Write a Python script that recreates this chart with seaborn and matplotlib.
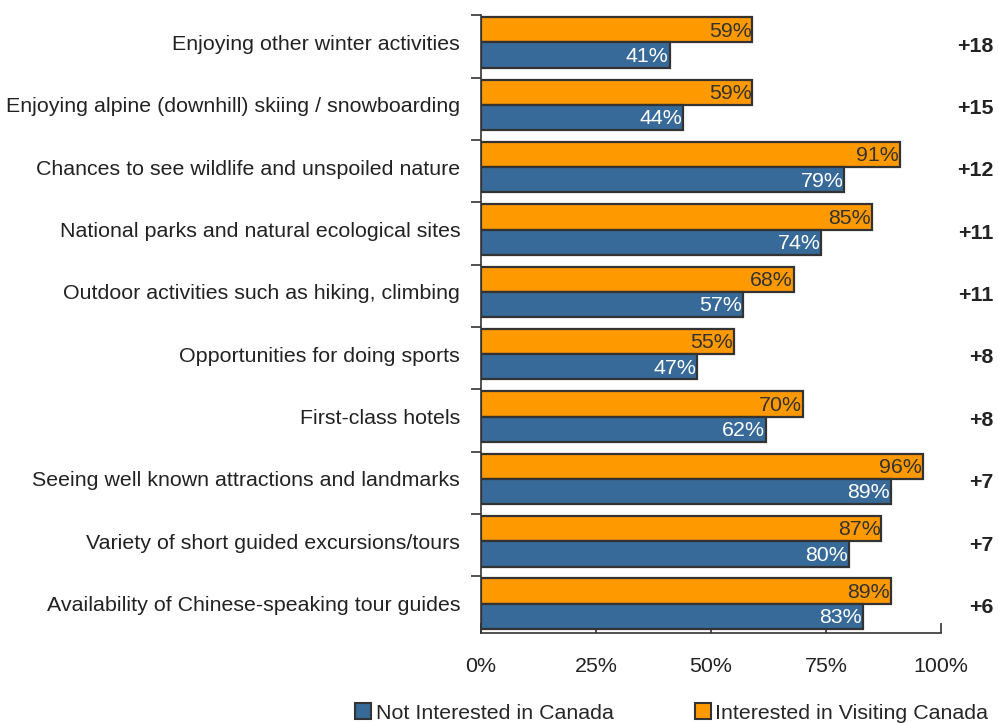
import pandas as pd
import numpy as np
import matplotlib.pyplot as plt
import seaborn as sns
from matplotlib.patches import Patch
from matplotlib.ticker import FixedLocator

categories = ["Enjoying other winter activities",
              "Enjoying alpine (downhill) skiing / snowboarding",
              "Chances to see wildlife and unspoiled nature",
              "National parks and natural ecological sites",
              "Outdoor activities such as hiking, climbing",
              "Opportunities for doing sports",
              "First-class hotels",
              "Seeing well known attractions and landmarks",
              "Variety of short guided excursions/tours",
              "Availability of Chinese-speaking tour guides"]
interested = [59, 59, 91, 85, 68, 55, 70, 96, 87, 89]
not_interested = [41, 44, 79, 74, 57, 47, 62, 89, 80, 83]
diff_labels = ["+18", "+15", "+12", "+11", "+11", "+8", "+8", "+7", "+7", "+6"]
series = ["Interested in Visiting Canada", "Not Interested in Canada"]
colors = {"Interested in Visiting Canada": "#FF9900", "Not Interested in Canada": "#376A98"}

df = pd.DataFrame({
    "category": categories * 2,
    "value": interested + not_interested,
    "series": [series[0]] * len(categories) + [series[1]] * len(categories),
})

sns.set_style("white")
plt.rcParams["font.family"] = ["Liberation Sans", "DejaVu Sans"]
fs = 15.4

fig = plt.figure(figsize=(9.98, 7.23), dpi=100)
ax = fig.add_axes([0.482, 0.1245, 0.461, 0.8545])

sns.barplot(data=df, y="category", x="value", hue="series", order=categories,
            hue_order=series, palette=colors, orient="h", width=0.81, saturation=1,
            edgecolor="#333333", linewidth=1.6, legend=False, ax=ax)

# value labels inside bar ends
for cont, txtcol in zip(ax.containers, ["#333333", "white"]):
    for bar in cont:
        w = bar.get_width()
        ax.text(w - 0.2, bar.get_y() + bar.get_height() / 2 + 0.02, f"{w:.0f}%",
                ha="right", va="center", fontsize=fs, color=txtcol)

for i, lab in enumerate(diff_labels):
    ax.text(1.114, i + 0.06, lab, transform=ax.get_yaxis_transform(),
            ha="right", va="center", fontsize=fs, fontweight="bold", color="#222222")

top = -0.437
ax.set_xlim(0, 100)
ax.set_ylim(9.47, top)
ax.set_xticks([0, 25, 50, 75, 100])
ax.set_xticklabels(["0%", "25%", "50%", "75%", "100%"], fontsize=fs, color="#222222")
ax.tick_params(axis="x", bottom=True, direction="in", length=7, width=1.2, color="#333333", pad=17)
ax.tick_params(axis="y", which="major", length=0, labelsize=fs, labelcolor="#222222", pad=15)
ax.yaxis.set_minor_locator(FixedLocator(top + np.arange(0, len(categories))))
ax.tick_params(axis="y", which="minor", left=True, direction="out", length=7, width=1.2, color="#333333")
ax.set_xlabel("")
ax.set_ylabel("")

for s in ["top", "right"]:
    ax.spines[s].set_visible(False)
for s in ["left", "bottom"]:
    ax.spines[s].set_color("#333333")
    ax.spines[s].set_linewidth(1.2)

handles = [Patch(facecolor=colors[series[1]], edgecolor="#333333", linewidth=1.5, label=series[1]),
           Patch(facecolor=colors[series[0]], edgecolor="#333333", linewidth=1.5, label=series[0])]
fig.legend(handles=handles, loc="lower center", bbox_to_anchor=(0.673, -0.026), ncol=2,
           frameon=False, fontsize=fs, handlelength=0.75, handleheight=0.75,
           handletextpad=0.2, columnspacing=3.8)

fig.savefig("out.png", dpi=100)
